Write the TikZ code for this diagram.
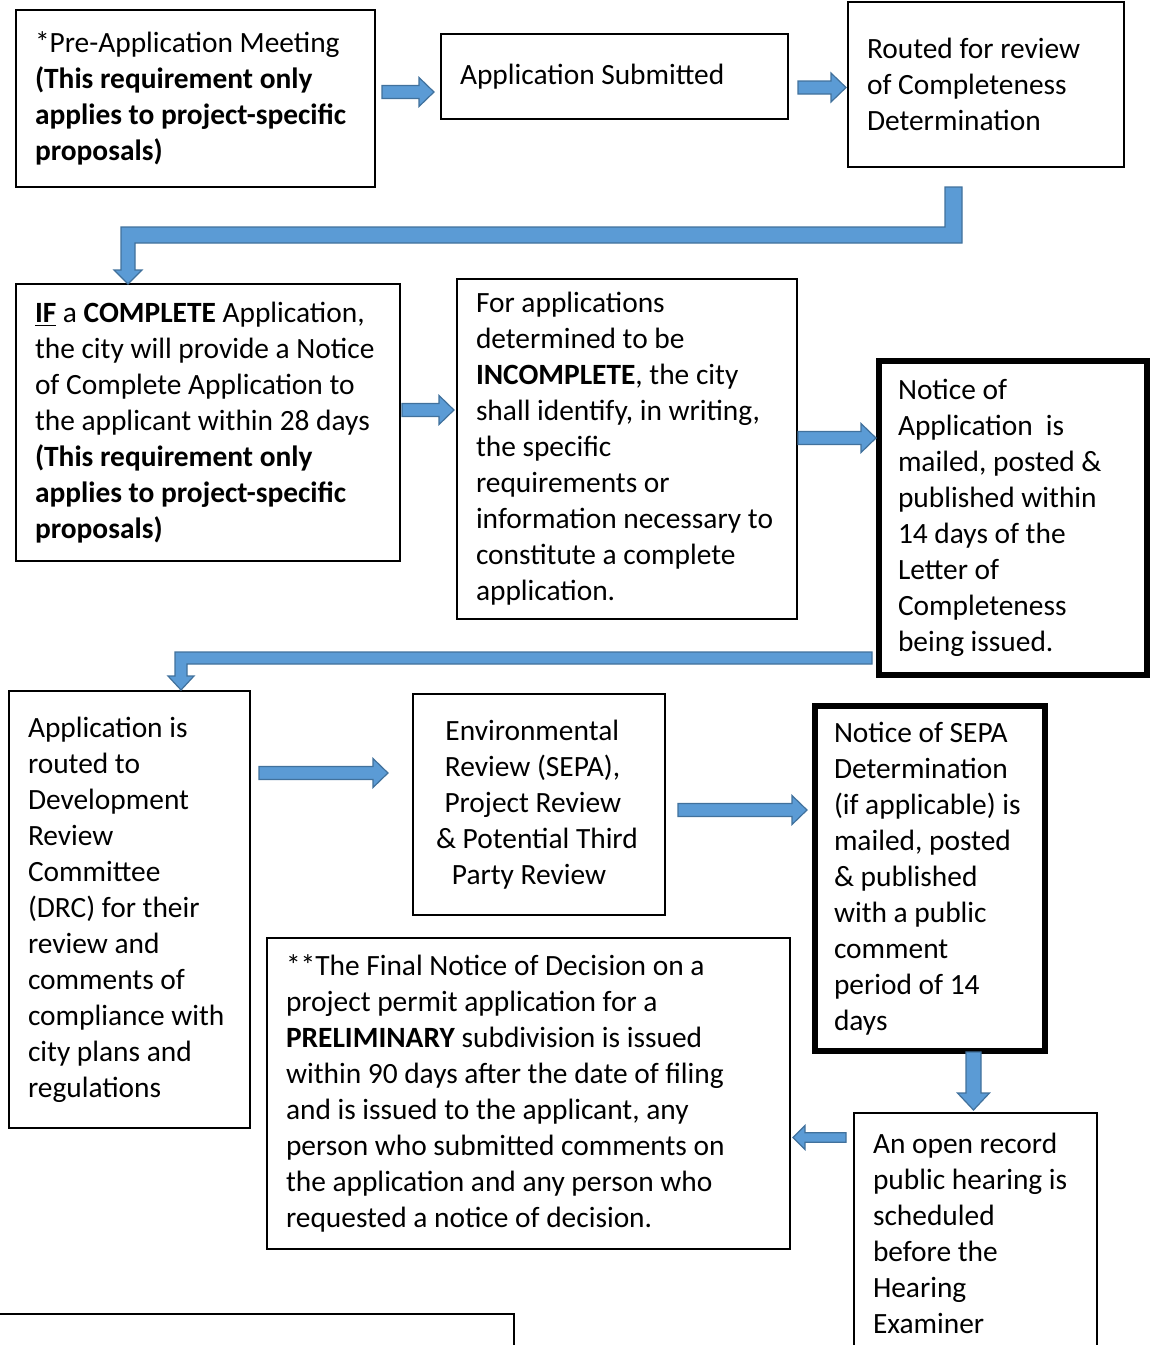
\documentclass[tikz,border=0pt]{standalone}
\usepackage{fontspec}
\setmainfont{Carlito}
\usetikzlibrary{calc}
\definecolor{arrowfill}{HTML}{5B9BD5}
\definecolor{arrowline}{HTML}{41719C}
\tikzset{
  box/.style={draw, line width=1pt, outer sep=0pt, anchor=north west, inner xsep=9.5pt, inner ysep=0pt,
    align=left, font=\fontsize{14.7}{18}\selectfont,
    execute at begin node={\rightskip=0pt plus 1fil minus 40pt\hyphenpenalty=10000\frenchspacing
      \spaceskip=0.226em plus 0.1em minus 0.06em}},
  midbox/.style={box, execute at begin node={\leftskip=0pt plus 1fil\rightskip=0pt plus 1fil}},
  heavy/.style={box, line width=3.25pt},
  blockarrow/.style={fill=arrowfill, draw=arrowline, line width=0.6pt},
  rflow/.style n args={3}{blockarrow, to path={let \p1=(\tikztostart), \p2=(\tikztotarget) in
    (\x1,\y1+#1) -- (\x2-#3,\y1+#1) -- (\x2-#3,\y1+#2) -- (\x2,\y1) -- (\x2-#3,\y1-#2) -- (\x2-#3,\y1-#1) -- (\x1,\y1-#1) -- cycle}},
  lflow/.style n args={3}{blockarrow, to path={let \p1=(\tikztostart), \p2=(\tikztotarget) in
    (\x1,\y1+#1) -- (\x2+#3,\y1+#1) -- (\x2+#3,\y1+#2) -- (\x2,\y1) -- (\x2+#3,\y1-#2) -- (\x2+#3,\y1-#1) -- (\x1,\y1-#1) -- cycle}},
  dflow/.style n args={3}{blockarrow, to path={let \p1=(\tikztostart), \p2=(\tikztotarget) in
    (\x1+#1,\y1) -- (\x1+#1,\y2+#3) -- (\x1+#2,\y2+#3) -- (\x1,\y2) -- (\x1-#2,\y2+#3) -- (\x1-#1,\y2+#3) -- (\x1-#1,\y1) -- cycle}},
  flow/.style={rflow={3.25pt}{7.25pt}{7.5pt}}
}
\begin{document}
\begin{tikzpicture}[x=0.5pt, y=-0.5pt]
\useasboundingbox (0,0) rectangle (1151,1345);
\clip (0,0) rectangle (1151,1345);

\node[box, text width=160.5pt, minimum height=88.5pt] (preapp) at (16,10) {*Pre-Application Meeting\\ \textbf{(This requirement only}\\ \textbf{applies to project-specific}\\ \textbf{proposals)}};
\node[box, text width=154.5pt, minimum height=42.5pt] (appsub) at (441,34) {Application Submitted};
\node[box, text width=119pt, minimum height=82.5pt] (routed) at (848,2) {Routed for review\\ of Completeness\\ Determination};

\node[box, text width=173pt, minimum height=138.5pt] (complete) at (16,284) {\underline{\textbf{IF}} a \textbf{COMPLETE} Application,\\ the city will provide a Notice\\ of Complete Application to\\ the applicant within 28 days\\ \textbf{(This requirement only}\\ \textbf{applies to project-specific}\\ \textbf{proposals)}};
\node[box, text width=151pt, minimum height=170pt] (incomplete) at (457,279) {For applications\\ determined to be\\ \textbf{INCOMPLETE}, the city\\ shall identify, in writing,\\ the specific\\ requirements or\\ information necessary to\\ constitute a complete\\ application.};
\node[heavy, text width=115pt, minimum height=157pt] (noticeapp) at (879,361) {Notice of\\ Application\ \ is\\ mailed, posted \&\\ published within\\ 14 days of the\\ Letter of\\ Completeness\\ being issued.};

\node[box, text width=101.5pt, minimum height=218.5pt] (drc) at (9,691) {Application is\\ routed to\\ Development\\ Review\\ Committee\\ (DRC) for their\\ review and\\ comments of\\ compliance with\\ city plans and\\ regulations};
\node[midbox, text width=107pt, minimum height=110.5pt] (env) at (413,694) {Environmental\\ Review (SEPA),\\ Project Review\\ \& Potential Third\\ Party Review};
\node[heavy, text width=96pt, minimum height=172.5pt] (sepa) at (815,706) {Notice of SEPA\\ Determination\\ (if applicable) is\\ mailed, posted\\ \& published\\ with a public\\ comment\\ period of 14\\ days};

\node[box, text width=242.5pt, minimum height=155.5pt] (final) at (267,938) {**The Final Notice of Decision on a\\ project permit application for a\\ \textbf{PRELIMINARY} subdivision is issued\\ within 90 days after the date of filing\\ and is issued to the applicant, any\\ person who submitted comments on\\ the application and any person who\\ requested a notice of decision.};
\node[box, text width=102.5pt, minimum height=120.5pt] (hearing) at (854,1113) {An open record\\ public hearing is\\ scheduled\\ before the\\ Hearing\\ Examiner};
\node[box, minimum width=259pt, minimum height=80pt] (lastbox) at (-4,1314) {};

\draw[flow] ($(preapp.east)+(7,-6.5)$) to ($(appsub.west)+(-7,0)$);
\draw[flow] ($(appsub.east)+(10,11)$) to ($(routed.west)+(-2,0)$);
\draw[flow] ($(complete.east)+(2,-12.5)$) to ($(incomplete.west)+(-3,0)$);
\draw[flow] ($(incomplete.east)+(1,-11)$) to ($(noticeapp.west)+(-3,0)$);
\draw[flow] ($(drc.east)+(9,-136.5)$) to ($(env.west)+(-25,0)$);
\draw[flow] ($(env.east)+(13,5.5)$) to ($(sepa.west)+(-8,0)$);
\draw[dflow={3.75pt}{8pt}{8.5pt}] ($(sepa.south)+(43.5,1)$) to ($(hearing.north)+(0,-3)$);
\draw[lflow={2.4pt}{6pt}{6pt}] ($(hearing.west)+(-8,-96)$) to ($(final.east)+(3,0)$);

\coordinate (b1s) at ($(routed.south)+(-32.5,20)$);
\coordinate (b1e) at ($(complete.north)+(-80,0)$);
\draw[blockarrow] let \p1=(b1s), \p2=(b1e) in
  (\x1-4.25pt,\y1) -- (\x1+4.25pt,\y1) -- (\x1+4.25pt,\y1-28pt) -- (\x2+3.5pt,\y1-28pt) -- (\x2+3.5pt,\y2+7pt)
  -- (\x2+7pt,\y2+7pt) -- (\x2,\y2) -- (\x2-7pt,\y2+7pt) -- (\x2-3.5pt,\y2+7pt) -- (\x2-3.5pt,\y1-20pt)
  -- (\x1-4.25pt,\y1-20pt) -- cycle;
\coordinate (b2s) at ($(noticeapp.west)+(-7,140)$);
\coordinate (b2e) at ($(drc.north)+(51.5,-1)$);
\draw[blockarrow] let \p1=(b2s), \p2=(b2e) in
  (\x1,\y1+3pt) -- (\x1,\y1-3pt) -- (\x2+3pt,\y1-3pt) -- (\x2+3pt,\y2+7pt) -- (\x2+6.5pt,\y2+7pt)
  -- (\x2,\y2) -- (\x2-6.5pt,\y2+7pt) -- (\x2-3pt,\y2+7pt) -- (\x2-3pt,\y1+3pt) -- cycle;
\end{tikzpicture}
\end{document}
